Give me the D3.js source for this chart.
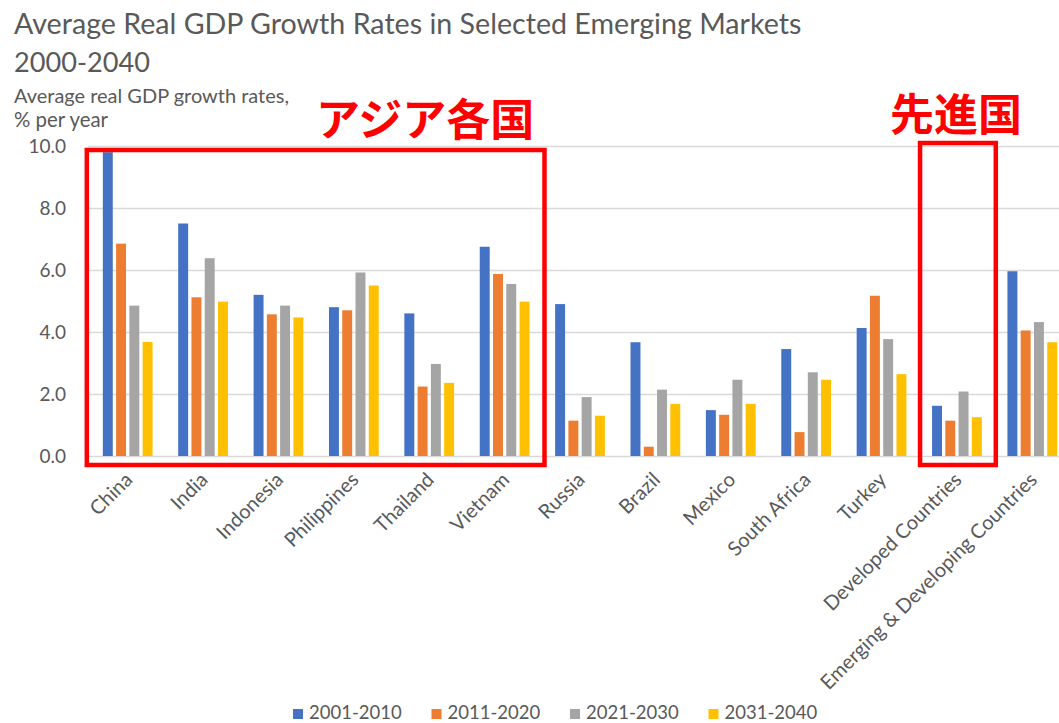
<!DOCTYPE html>
<html>
<head>
<meta charset="utf-8">
<script src="https://cdn.jsdelivr.net/npm/d3@7"></script>
<style>
  html, body { margin: 0; padding: 0; background: #fff; overflow: hidden; }
  svg { display: block; font-family: Lato, "Open Sans", sans-serif; }
</style>
</head>
<body>
<svg id="chart" width="1059" height="723"></svg>
<script>
// data
const countries = ['China', 'India', 'Indonesia', 'Philippines', 'Thailand', 'Vietnam', 'Russia',
  'Brazil', 'Mexico', 'South Africa', 'Turkey', 'Developed Countries', 'Emerging & Developing Countries'];
const periods = ['2001-2010', '2011-2020', '2021-2030', '2031-2040'];
const g2001 = [9.8, 7.5, 5.2, 4.8, 4.6, 6.75, 4.9, 3.67, 1.48, 3.45, 4.13, 1.62, 5.96];
const g2011 = [6.85, 5.12, 4.57, 4.7, 2.24, 5.87, 1.14, 0.3, 1.33, 0.77, 5.17, 1.14, 4.05];
const g2021 = [4.85, 6.38, 4.85, 5.92, 2.97, 5.55, 1.9, 2.14, 2.46, 2.7, 3.77, 2.08, 4.32];
const g2031 = [3.68, 4.98, 4.47, 5.5, 2.36, 4.98, 1.3, 1.68, 1.68, 2.46, 2.64, 1.25, 3.67];
const yTicks = [0, 2, 4, 6, 8, 10];
const colors = ['#4472C4', '#ED7D31', '#A5A5A5', '#FFC000'];

const series = [g2001, g2011, g2021, g2031];
const rows = countries.map((c, i) => ({ country: c, values: series.map((s, j) => ({ key: periods[j], value: s[i] })) }));

let svg = d3.select('#chart');
let textColor = '#595959';

let x0 = d3.scaleBand().domain(countries).range([90, 1070]).paddingInner(0.34).paddingOuter(0.17);
let x1 = d3.scaleBand().domain(periods).range([0, x0.bandwidth()]).paddingInner(0.25);
let y = d3.scaleLinear().domain([0, 10]).range([456, 146]);
let z = d3.scaleOrdinal().domain(periods).range(colors);

// shrink or grow a text so it spans a given width
function fitWidth(sel, w) {
  let node = sel.node();
  let fs = parseFloat(sel.attr('font-size'));
  sel.attr('font-size', fs * w / node.getComputedTextLength());
}

// titles
let t1 = svg.append('text').attr('x', 14).attr('y', 34).attr('font-size', 26).attr('fill', textColor)
  .text('Average Real GDP Growth Rates in Selected Emerging Markets');
fitWidth(t1, 788);
let t2 = svg.append('text').attr('x', 14).attr('y', 72).attr('font-size', 26).attr('fill', textColor)
  .text('2000-2040');
fitWidth(t2, 136);
let s1 = svg.append('text').attr('x', 14).attr('y', 103).attr('font-size', 17).attr('fill', textColor)
  .text('Average real GDP growth rates,');
fitWidth(s1, 275);
let s2 = svg.append('text').attr('x', 14).attr('y', 127).attr('font-size', 17).attr('fill', textColor)
  .text('% per year');
fitWidth(s2, 94);

// grid + y axis
let yAxis = svg.append('g').attr('transform', 'translate(88,0)')
  .call(d3.axisLeft(y).tickValues(yTicks).tickFormat(d3.format('.1f')).tickSize(-980).tickPadding(22));
yAxis.select('.domain').remove();
yAxis.selectAll('.tick line').attr('stroke', '#d9d9d9').attr('stroke-width', 1.5);
yAxis.selectAll('.tick text').attr('fill', textColor).attr('font-size', 19)
  .attr('font-family', 'Lato, sans-serif');

// bars
let groups = svg.append('g').selectAll('g')
  .data(rows)
  .enter().append('g')
  .attr('transform', d => 'translate(' + x0(d.country) + ',0)');

groups.selectAll('rect')
  .data(d => d.values)
  .enter().append('rect')
  .attr('x', d => x1(d.key))
  .attr('y', d => y(d.value))
  .attr('width', x1.bandwidth())
  .attr('height', d => y(0) - y(d.value))
  .attr('fill', d => z(d.key));

// category labels
let xAxis = svg.append('g').attr('transform', 'translate(0,' + y(0) + ')')
  .call(d3.axisBottom(x0).tickSize(0));
xAxis.select('.domain').remove();
xAxis.selectAll('.tick text')
  .attr('fill', textColor)
  .attr('font-size', 20)
  .attr('font-family', 'Lato, sans-serif')
  .attr('text-anchor', 'end')
  .attr('dy', 0)
  .attr('y', 0)
  .attr('transform', 'translate(6,25) rotate(-45)');

// red annotation boxes
let red = '#ff0000';
let asiaL = x0('China') - 16;
let asiaR = x0('Vietnam') + x0.bandwidth() + 15;
svg.append('rect')
  .attr('x', asiaL).attr('y', y(10) + 4)
  .attr('width', asiaR - asiaL).attr('height', y(0) + 9 - (y(10) + 4))
  .attr('fill', 'none').attr('stroke', red).attr('stroke-width', 4.5);
let devL = x0('Developed Countries') - 12;
let devR = x0('Developed Countries') + x0.bandwidth() + 14;
svg.append('rect')
  .attr('x', devL).attr('y', y(10) - 3)
  .attr('width', devR - devL).attr('height', y(0) + 9 - (y(10) - 3))
  .attr('fill', 'none').attr('stroke', red).attr('stroke-width', 4.5);

svg.append('text').attr('x', 316).attr('y', 136)
  .attr('font-family', '"Noto Sans CJK JP", sans-serif').attr('font-weight', 'bold')
  .attr('font-size', 44).attr('fill', red).text('アジア各国');
svg.append('text').attr('x', 890).attr('y', 131)
  .attr('font-family', '"Noto Sans CJK JP", sans-serif').attr('font-weight', 'bold')
  .attr('font-size', 44).attr('fill', red).text('先進国');

// legend
let legend = svg.append('g').selectAll('g')
  .data(periods)
  .enter().append('g')
  .attr('transform', (d, i) => 'translate(' + (293 + i * 138.5) + ',709)');

legend.append('rect')
  .attr('width', 10).attr('height', 10)
  .attr('fill', z);

legend.append('text')
  .attr('x', 16).attr('y', 10)
  .attr('font-size', 18.5)
  .attr('fill', textColor)
  .text(d => d);
</script>
</body>
</html>
